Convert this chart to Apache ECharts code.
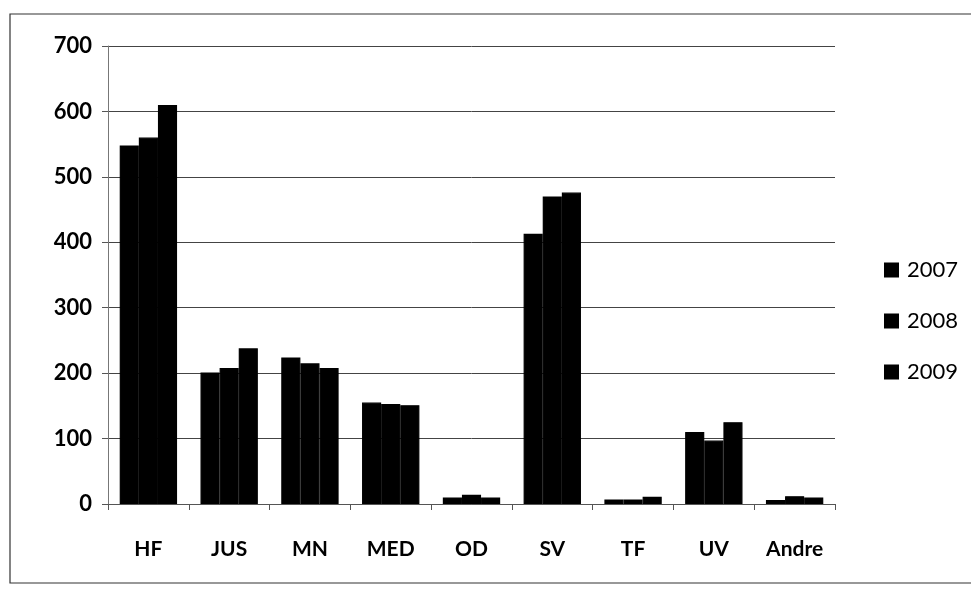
<!DOCTYPE html>
<html>
<head>
<meta charset="utf-8">
<script src="https://cdn.jsdelivr.net/npm/echarts@6/dist/echarts.min.js"></script>
<style>
  html, body { margin: 0; padding: 0; background: #fff; }
  #chart { width: 971px; height: 597px; }
</style>
</head>
<body>
<div id="chart"></div>
<script>
const categories = ['HF', 'JUS', 'MN', 'MED', 'OD', 'SV', 'TF', 'UV', 'Andre']
const years = ['2007', '2008', '2009']
const v2007 = [548, 201, 224, 155, 10, 413, 7, 110, 6]
const v2008 = [560, 208, 215, 153, 14, 470, 7, 97, 12]
const v2009 = [610, 238, 208, 151, 10, 476, 11, 125, 10]
const yTicks = [0, 100, 200, 300, 400, 500, 600, 700]

const chart = echarts.init(document.getElementById('chart'), null, { renderer: 'canvas' })

const barSeries = [v2007, v2008, v2009].map((vals, i) => ({
  name: years[i],
  type: 'bar',
  data: vals,
  barGap: '0%',
  barCategoryGap: '29%',
  // border so neighbouring bars merge like in the scan
  itemStyle: { color: '#000', borderColor: '#000', borderWidth: 1.2 },
}))

chart.setOption({
  animation: false,
  backgroundColor: '#fff',
  graphic: [
    {
      // scanned frame round the chart
      type: 'rect',
      shape: { x: 10, y: 14, width: 980, height: 569 },
      style: { fill: 'none', stroke: '#333', lineWidth: 1.2 },
      silent: true,
    },
  ],
  grid: { left: 108, right: 136, top: 46, bottom: 93 },
  legend: {
    orient: 'vertical',
    left: 879,
    top: 254,
    itemWidth: 13,
    itemHeight: 13,
    itemGap: 29,
    icon: 'rect',
    data: years,
    textStyle: { fontFamily: 'Lato', fontSize: 22, color: '#000', padding: [0, 0, 0, 4] },
  },
  xAxis: {
    type: 'category',
    data: categories,
    axisLine: { lineStyle: { color: '#555', width: 1 } },
    axisTick: { show: true, length: 6, lineStyle: { color: '#555' } },
    axisLabel: {
      margin: 35,
      fontFamily: 'Lato',
      fontWeight: 'bold',
      fontSize: 21,
      color: '#000',
    },
  },
  yAxis: {
    type: 'value',
    min: yTicks[0],
    max: yTicks[yTicks.length - 1],
    interval: 100,
    axisLine: { show: true, lineStyle: { color: '#777', width: 1 } },
    axisTick: { show: true, length: 6, lineStyle: { color: '#555' } },
    splitLine: { lineStyle: { color: '#444', width: 1 } },
    axisLabel: {
      margin: 16,
      fontFamily: 'Lato',
      fontWeight: 'bold',
      fontSize: 22,
      color: '#000',
    },
  },
  series: barSeries,
})
</script>
</body>
</html>
